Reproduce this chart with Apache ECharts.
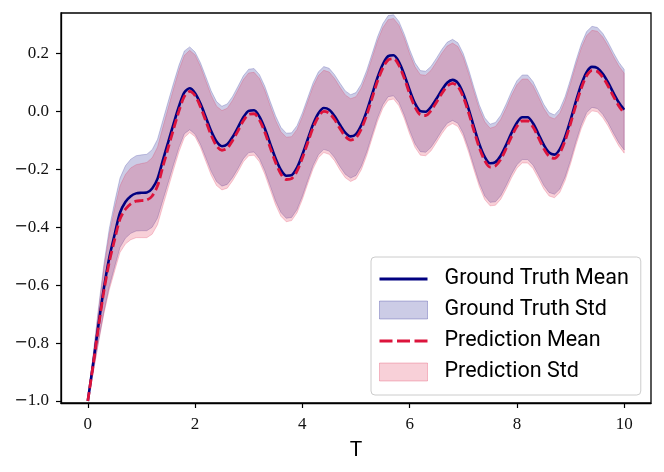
<!DOCTYPE html>
<html>
<head>
<meta charset="utf-8">
<script src="https://cdn.jsdelivr.net/npm/echarts@6/dist/echarts.min.js"></script>
<style>
  html, body { margin: 0; padding: 0; background: #fff; }
  #chart { width: 664px; height: 472px; }
</style>
</head>
<body>
<div id="chart"></div>
<script>
// time grid, step 0.1
var T = [];
for (var i = 0; i <= 100; i++) T.push(+(i / 10).toFixed(1));

var gtMean = [
  -1.000, -0.870, -0.735, -0.610, -0.505, -0.425, -0.350, -0.313, -0.293, -0.283,
  -0.281, -0.280, -0.266, -0.232, -0.168, -0.105, -0.042, 0.018, 0.066, 0.080,
  0.063, 0.027, -0.020, -0.068, -0.104, -0.120, -0.113, -0.088, -0.055, -0.020,
  0.002, 0.004, -0.018, -0.059, -0.111, -0.162, -0.202, -0.222, -0.220, -0.194,
  -0.149, -0.096, -0.044, -0.006, 0.012, 0.006, -0.016, -0.046, -0.073, -0.086,
  -0.078, -0.047, 0.001, 0.059, 0.117, 0.163, 0.191, 0.194, 0.171, 0.127,
  0.074, 0.028, 0.001, -0.001, 0.016, 0.044, 0.074, 0.099, 0.109, 0.098,
  0.062, 0.008, -0.054, -0.113, -0.157, -0.179, -0.175, -0.152, -0.115, -0.074,
  -0.039, -0.020, -0.020, -0.041, -0.077, -0.115, -0.142, -0.149, -0.130, -0.087,
  -0.029, 0.035, 0.093, 0.136, 0.154, 0.150, 0.130, 0.100, 0.064, 0.031,
  0.006
];
var gtStd = [
  0.000, 0.030, 0.058, 0.082, 0.100, 0.112, 0.120, 0.125, 0.128, 0.130,
  0.131, 0.132, 0.134, 0.136, 0.138, 0.140, 0.141, 0.142, 0.143, 0.143,
  0.142, 0.141, 0.140, 0.139, 0.138, 0.138, 0.139, 0.140, 0.142, 0.143,
  0.144, 0.144, 0.145, 0.146, 0.146, 0.147, 0.147, 0.147, 0.146, 0.145,
  0.144, 0.143, 0.143, 0.143, 0.143, 0.143, 0.143, 0.144, 0.144, 0.144,
  0.143, 0.142, 0.141, 0.140, 0.140, 0.140, 0.140, 0.140, 0.140, 0.140,
  0.140, 0.140, 0.140, 0.140, 0.140, 0.140, 0.140, 0.140, 0.140, 0.139,
  0.138, 0.137, 0.136, 0.135, 0.135, 0.135, 0.137, 0.139, 0.141, 0.143,
  0.145, 0.146, 0.146, 0.144, 0.142, 0.140, 0.138, 0.137, 0.138, 0.139,
  0.140, 0.140, 0.140, 0.140, 0.140, 0.140, 0.140, 0.139, 0.139, 0.139,
  0.139
];
var predMean = [
  -1.000, -0.875, -0.743, -0.620, -0.520, -0.443, -0.372, -0.338, -0.319, -0.310,
  -0.308, -0.306, -0.292, -0.257, -0.190, -0.125, -0.060, 0.002, 0.052, 0.069,
  0.054, 0.016, -0.033, -0.082, -0.119, -0.134, -0.127, -0.100, -0.067, -0.032,
  -0.010, -0.008, -0.030, -0.072, -0.125, -0.176, -0.216, -0.235, -0.232, -0.206,
  -0.161, -0.108, -0.056, -0.018, 0.000, -0.006, -0.028, -0.059, -0.086, -0.099,
  -0.091, -0.060, -0.012, 0.046, 0.104, 0.150, 0.178, 0.182, 0.159, 0.115,
  0.061, 0.015, -0.012, -0.014, 0.003, 0.032, 0.062, 0.087, 0.097, 0.086,
  0.050, -0.005, -0.067, -0.126, -0.170, -0.192, -0.188, -0.165, -0.128, -0.087,
  -0.052, -0.033, -0.033, -0.054, -0.090, -0.128, -0.155, -0.162, -0.143, -0.100,
  -0.042, 0.022, 0.080, 0.123, 0.141, 0.138, 0.118, 0.088, 0.052, 0.019,
  -0.006
];
var predStd = [
  0.000, 0.028, 0.055, 0.078, 0.096, 0.108, 0.115, 0.120, 0.124, 0.126,
  0.128, 0.130, 0.132, 0.134, 0.136, 0.138, 0.140, 0.141, 0.142, 0.142,
  0.141, 0.140, 0.139, 0.138, 0.137, 0.137, 0.138, 0.139, 0.141, 0.142,
  0.143, 0.143, 0.144, 0.145, 0.145, 0.146, 0.146, 0.146, 0.145, 0.144,
  0.143, 0.142, 0.142, 0.142, 0.142, 0.142, 0.142, 0.143, 0.143, 0.143,
  0.142, 0.141, 0.140, 0.139, 0.139, 0.139, 0.139, 0.139, 0.139, 0.139,
  0.139, 0.139, 0.139, 0.139, 0.139, 0.139, 0.139, 0.139, 0.139, 0.138,
  0.137, 0.136, 0.135, 0.134, 0.134, 0.134, 0.136, 0.138, 0.140, 0.142,
  0.144, 0.145, 0.145, 0.143, 0.141, 0.139, 0.137, 0.136, 0.137, 0.138,
  0.139, 0.139, 0.139, 0.139, 0.139, 0.139, 0.139, 0.138, 0.138, 0.138,
  0.138
];

var xTicks = [0, 2, 4, 6, 8, 10];
var yTicks = [-1.0, -0.8, -0.6, -0.4, -0.2, 0.0, 0.2];

var NAVY = '#000080', CRIMSON = '#dc143c';
var GT_FILL = 'rgba(0,0,128,0.2)', PRED_FILL = 'rgba(220,20,60,0.2)';

function pairs(ys) {
  return T.map(function (t, i) { return [t, ys[i]]; });
}

// std band as one polygon built from mean +/- std
function bandSeries(name, mean, std, fill) {
  return {
    name: name,
    type: 'custom',
    itemStyle: { color: fill },
    data: [0],
    renderItem: function (params, api) {
      var pts = [];
      for (var i = 0; i < T.length; i++) pts.push(api.coord([T[i], mean[i] + std[i]]));
      for (var j = T.length - 1; j >= 0; j--) pts.push(api.coord([T[j], mean[j] - std[j]]));
      return {
        type: 'polygon',
        shape: { points: pts },
        style: { fill: fill, stroke: fill, lineWidth: 1 }
      };
    }
  };
}

var chart = echarts.init(document.getElementById('chart'));
var serif = '"Liberation Serif", "DejaVu Serif", serif';
var sans = 'Roboto, "DejaVu Sans", sans-serif';

chart.setOption({
  animation: false,
  grid: { left: 61, right: 13, top: 13, bottom: 69, show: true, borderColor: '#000', borderWidth: 1.3 },
  xAxis: {
    type: 'value', min: -0.5, max: 10.5,
    name: 'T', nameLocation: 'middle', nameGap: 37,
    nameTextStyle: { fontFamily: sans, fontSize: 21, color: '#000' },
    axisLine: { onZero: false, lineStyle: { color: '#000', width: 1.3 } },
    axisTick: { customValues: xTicks, length: 5, lineStyle: { color: '#000', width: 1.2 } },
    axisLabel: { customValues: xTicks, margin: 13, fontFamily: serif, fontSize: 17, color: '#111' },
    splitLine: { show: false }
  },
  yAxis: {
    type: 'value', min: -1.007, max: 0.340,
    axisLine: { show: true, onZero: false, lineStyle: { color: '#000', width: 1.3 } },
    axisTick: { show: true, customValues: yTicks, length: 5, lineStyle: { color: '#000', width: 1.2 } },
    axisLabel: {
      customValues: yTicks, margin: 12, fontFamily: serif, fontSize: 17, color: '#111',
      formatter: function (v) { return (v < -1e-9 ? '{m|\u2212}' : '') + Math.abs(v).toFixed(1); },
      rich: { m: { fontFamily: '"DejaVu Sans"', fontSize: 16, color: '#111' } }
    },
    splitLine: { show: false }
  },
  legend: {
    orient: 'vertical', left: 371, top: 257,
    itemWidth: 48, itemHeight: 18, itemGap: 9,
    padding: [11, 12, 12, 8],
    backgroundColor: '#fff', borderColor: '#cccccc', borderWidth: 1, borderRadius: 4,
    selectedMode: false,
    textStyle: { fontFamily: sans, fontSize: 21.5, color: '#000', lineHeight: 18, padding: [0, 0, 0, 12] },
    data: [
      { name: 'Ground Truth Mean', icon: 'path://M0,0h48v3h-48z', itemStyle: { color: NAVY, borderWidth: 0 } },
      { name: 'Ground Truth Std', icon: 'rect', itemStyle: { color: GT_FILL, borderColor: 'rgba(0,0,128,0.25)', borderWidth: 1 } },
      { name: 'Prediction Mean', icon: 'path://M0,0h13v3h-13z M17.5,0h13v3h-13z M35,0h13v3h-13z', itemStyle: { color: CRIMSON, borderWidth: 0 } },
      { name: 'Prediction Std', icon: 'rect', itemStyle: { color: PRED_FILL, borderColor: 'rgba(220,20,60,0.25)', borderWidth: 1 } }
    ]
  },
  series: [
    bandSeries('Ground Truth Std', gtMean, gtStd, GT_FILL),
    bandSeries('Prediction Std', predMean, predStd, PRED_FILL),
    {
      name: 'Ground Truth Mean', type: 'line', data: pairs(gtMean),
      smooth: 0.3, showSymbol: false, symbol: 'none',
      itemStyle: { color: NAVY },
      lineStyle: { color: NAVY, width: 2.6 }
    },
    {
      name: 'Prediction Mean', type: 'line', data: pairs(predMean),
      smooth: 0.3, showSymbol: false, symbol: 'none',
      itemStyle: { color: CRIMSON },
      lineStyle: { color: CRIMSON, width: 2.8, type: [9, 4] }
    }
  ]
});
</script>
</body>
</html>
